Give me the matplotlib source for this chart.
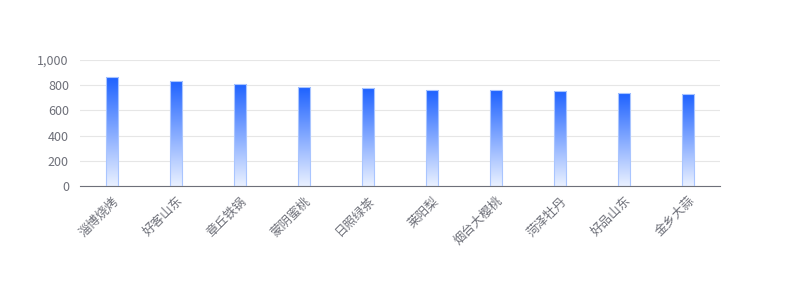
import numpy as np
import matplotlib
matplotlib.use("Agg")
import matplotlib.pyplot as plt
from matplotlib.colors import LinearSegmentedColormap
from matplotlib.ticker import FuncFormatter

plt.rcParams['font.family'] = ['Noto Sans CJK SC', 'DejaVu Sans']

categories = ['淄博烧烤', '好客山东', '章丘铁锅', '蒙阴蜜桃', '日照绿茶',
              '莱阳梨', '烟台大樱桃', '菏泽牡丹', '好品山东', '金乡大蒜']
values = [865, 835, 810, 782, 776, 761, 760, 756, 737, 729]

fig = plt.figure(figsize=(8, 3), dpi=100)
ax = fig.add_axes([0.1, 0.38, 0.8, 0.42])

x = np.arange(len(categories))
bars = ax.bar(x, values, width=0.2, color='none', edgecolor='#a9c5ff',
              linewidth=0.8, zorder=3)

# vertical gradient fill, clipped to each bar
cmap = LinearSegmentedColormap.from_list('blue_fade', ['#eaf1ff', '#1e62ff'])
grad = np.linspace(0, 1, 256).reshape(-1, 1)
for b in bars:
    img = ax.imshow(grad, cmap=cmap, aspect='auto', origin='lower',
                    extent=(b.get_x(), b.get_x() + b.get_width(), 0, b.get_height()),
                    zorder=2)
    img.set_clip_path(b)

ax.set_xlim(-0.5, len(categories) - 0.5)
ax.set_ylim(0, 1000)
ax.set_yticks([0, 200, 400, 600, 800, 1000])
ax.yaxis.set_major_formatter(FuncFormatter(lambda v, p: f'{int(v):,}'))
ax.set_xticks(x)
ax.set_xticklabels(categories, rotation=45, ha='right', rotation_mode='anchor')

ax.grid(axis='y', color='#e6e6e6', linewidth=0.8, zorder=0)
for s in ['top', 'right', 'left']:
    ax.spines[s].set_visible(False)
ax.spines['bottom'].set_color('#6e7079')
ax.tick_params(axis='both', length=0, labelsize=9, colors='#6e7079')
ax.tick_params(axis='y', pad=8)
ax.tick_params(axis='x', pad=6)

fig.savefig('out.png', dpi=100)
